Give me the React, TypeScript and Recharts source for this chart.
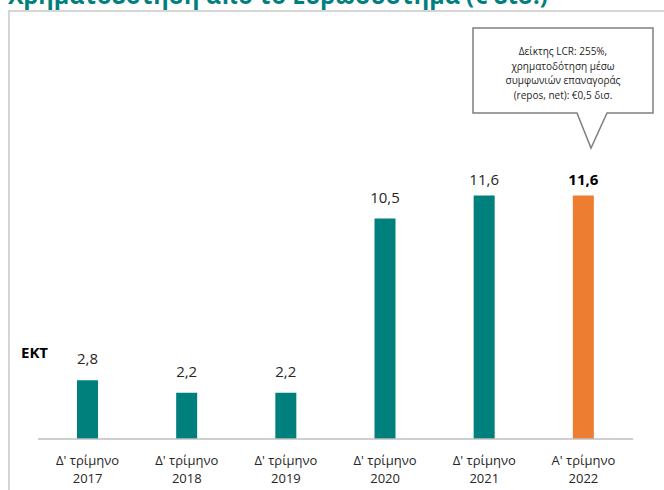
import { Bar, BarChart, Cell, LabelList, XAxis, YAxis } from 'recharts';

const quarters = ["Δ' τρίμηνο", "Δ' τρίμηνο", "Δ' τρίμηνο", "Δ' τρίμηνο", "Δ' τρίμηνο", "Α' τρίμηνο"];
const years = ['2017', '2018', '2019', '2020', '2021', '2022'];
const funding = [2.8, 2.2, 2.2, 10.5, 11.6, 11.6];
const valueLabels = ['2,8', '2,2', '2,2', '10,5', '11,6', '11,6'];
const calloutLines = [
  'Δείκτης LCR: 255%,',
  'χρηματοδότηση μέσω',
  'συμφωνιών επαναγοράς',
  '(repos, net): €0,5 δισ.',
];

const TEAL = '#00807c';
const ORANGE = '#ed7d31';
const FONT = '"Open Sans", "Noto Sans", sans-serif';

const data = years.map((year, i) => ({
  key: `${quarters[i]}|${year}`,
  value: funding[i],
  label: valueLabels[i],
}));

function QuarterTick({ x, y, payload }: any) {
  const [q, yr] = String(payload.value).split('|');
  return (
    <g>
      <text x={x} y={y + 26} textAnchor="middle" fontSize={13} fill="#262626" fontFamily={FONT}>
        {q}
      </text>
      <text x={x} y={y + 44} textAnchor="middle" fontSize={13} fill="#262626" fontFamily={FONT}>
        {yr}
      </text>
    </g>
  );
}

// labels sit above the bar, but are kept inside the plot area like the original
function ValueLabel({ x, y, width, index }: any) {
  const last = index === data.length - 1;
  return (
    <text
      x={x + width / 2}
      y={Math.max(y - 16, 185)}
      textAnchor="middle"
      fontSize={15}
      fontWeight={last ? 700 : 400}
      fill={last ? '#000' : '#262626'}
      fontFamily={FONT}
    >
      {data[index].label}
    </text>
  );
}

export default function App() {
  return (
    <div style={{ position: 'absolute', left: 0, top: 0, width: 664, height: 490, background: '#fff', overflow: 'hidden', fontFamily: FONT }}>
      <svg width={664} height={490} style={{ position: 'absolute', left: 0, top: 0 }}>
        <text x={8} y={4} fontSize={23.5} fontWeight={700} fill={TEAL} fontFamily={FONT}>
          Χρηματοδότηση από το Ευρωσύστημα (€ δισ.)
        </text>
        <polyline points="9,490 9,11 664,11" fill="none" stroke="#c8c8c8" strokeWidth={1.5} />
        <text x={21} y={358} fontSize={15} fontWeight={700} fill="#000" fontFamily={FONT}>
          ΕΚΤ
        </text>
      </svg>
      <div style={{ position: 'absolute', left: 0, top: 0 }}>
        <BarChart width={664} height={490} data={data} margin={{ top: 145, right: 31, bottom: 0, left: 38 }}>
          <XAxis
            dataKey="key"
            height={51}
            tickLine={false}
            tickSize={0}
            tickMargin={0}
            axisLine={{ stroke: '#bfbfbf', strokeWidth: 1.5 }}
            tick={<QuarterTick />}
            interval={0}
          />
          <YAxis hide domain={[0, 14]} />
          <Bar dataKey="value" barSize={21} isAnimationActive={false}>
            {data.map((d, i) => (
              <Cell key={d.key} fill={i === data.length - 1 ? ORANGE : TEAL} />
            ))}
            <LabelList dataKey="value" content={<ValueLabel />} />
          </Bar>
        </BarChart>
      </div>
      <svg width={664} height={490} style={{ position: 'absolute', left: 0, top: 0, pointerEvents: 'none' }}>
        <path
          d="M473,28 L653,28 L653,113 L607,113 L591,148 L577,113 L473,113 Z"
          fill="#fff"
          stroke="#7f7f7f"
          strokeWidth={1.5}
        />
        {calloutLines.map((line, i) => (
          <text key={line} x={563} y={55 + i * 14.5} textAnchor="middle" fontSize={10} fill="#262626" fontFamily={FONT}>
            {line}
          </text>
        ))}
      </svg>
    </div>
  );
}
